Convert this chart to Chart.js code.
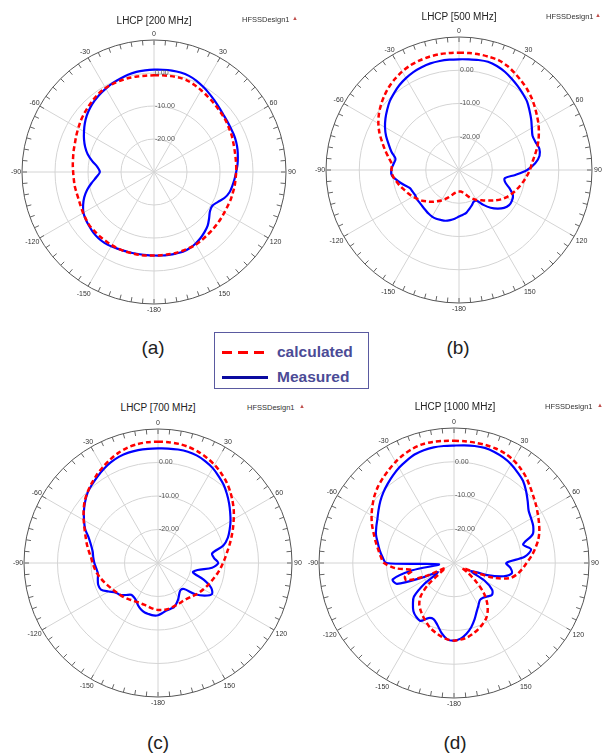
<!DOCTYPE html>
<html>
<head>
<meta charset="utf-8">
<script src="https://cdn.jsdelivr.net/npm/chart.js@4.4.1/dist/chart.umd.min.js"></script>
<style>
  body { margin: 0; background: #fff; font-family: "Liberation Sans", Arial, sans-serif; }
  #page { position: relative; width: 606px; height: 753px; overflow: hidden; background: #fff; }
  canvas { position: absolute; }
  .title { position: absolute; font-size: 10px; color: #222; transform: translate(-50%, -50%); white-space: nowrap; }
  .design { position: absolute; font-size: 7.5px; color: #333; transform: translateY(-50%); white-space: nowrap; }
  .tri { position: absolute; font-size: 6px; color: #c0504d; transform: translate(-50%, -50%); }
  .cap { position: absolute; font-size: 19px; color: #222; transform: translate(-50%, -50%); }
  #legend { position: absolute; left: 214px; top: 332px; width: 153px; height: 55px; border: 1px solid #5a5aa0; }
  #legend svg { position: absolute; left: 0; top: 0; }
  .lg { position: absolute; left: 62px; font-size: 15.5px; font-weight: bold; color: #4b4b96; transform: translateY(-50%); }
</style>
</head>
<body>
<div id="page">
  <canvas id="c200" width="300" height="300" style="left:4px;top:22px"></canvas>
  <canvas id="c500" width="300" height="300" style="left:309px;top:20px"></canvas>
  <canvas id="c700" width="300" height="300" style="left:8px;top:413px"></canvas>
  <canvas id="c1000" width="300" height="300" style="left:304px;top:413px"></canvas>

  <div class="title" style="left:154px;top:20px">LHCP [200 MHz]</div>
  <div class="design" style="left:242px;top:19px">HFSSDesign1</div>
  <div class="tri" style="left:295px;top:18px">&#9650;</div>
  <div class="title" style="left:459px;top:16px">LHCP [500 MHz]</div>
  <div class="design" style="left:546px;top:16px">HFSSDesign1</div>
  <div class="tri" style="left:598px;top:15px">&#9650;</div>
  <div class="title" style="left:158px;top:407px">LHCP [700 MHz]</div>
  <div class="design" style="left:247px;top:407px">HFSSDesign1</div>
  <div class="tri" style="left:302px;top:406px">&#9650;</div>
  <div class="title" style="left:455px;top:406px">LHCP [1000 MHz]</div>
  <div class="design" style="left:545px;top:406px">HFSSDesign1</div>
  <div class="tri" style="left:600px;top:405px">&#9650;</div>

  <div class="cap" style="left:153px;top:348px">(a)</div>
  <div class="cap" style="left:458px;top:348px">(b)</div>
  <div class="cap" style="left:158px;top:743px">(c)</div>
  <div class="cap" style="left:455px;top:743px">(d)</div>

  <div id="legend">
    <svg width="153" height="55">
      <line x1="7" y1="19.5" x2="53" y2="19.5" stroke="#ff0000" stroke-width="3" stroke-dasharray="10,6"/>
      <line x1="7" y1="44.5" x2="53" y2="44.5" stroke="#0a0aa0" stroke-width="3"/>
    </svg>
    <div class="lg" style="top:19px">calculated</div>
    <div class="lg" style="top:44px">Measured</div>
  </div>
</div>

<script>
// angles go clockwise from the top: 0..180 then -175..-5
const angles = [];
for (let a = 0; a <= 180; a += 5) angles.push(a);
for (let a = -175; a < 0; a += 5) angles.push(a);

const dbTicks = [0, -10, -20];

// gain in dB, one value per angle above
const calc200 = [
  -0.7, -0.6, -0.5, -0.4, -0.5, -0.9, -1.4, -1.9, -2.3, -2.7, -3.0, -3.3,
  -3.7, -4.0, -4.4, -4.7, -4.9, -5.0, -5.1, -5.2, -5.2, -5.3, -5.3, -5.4,
  -5.4, -5.3, -5.2, -5.1, -5.0, -4.8, -4.6, -4.6, -4.6, -4.6, -4.7, -4.7,
  -4.7, -4.6, -4.5, -4.5, -4.4, -4.4, -4.4, -4.5, -4.5, -4.6, -4.6, -4.9,
  -5.2, -5.5, -5.7, -5.7, -5.6, -5.6, -5.5, -5.3, -5.1, -4.8, -4.5, -4.0,
  -3.5, -2.9, -2.4, -1.9, -1.4, -0.9, -0.6, -0.5, -0.5, -0.5, -0.6, -0.7
];
const meas200 = [
  1.0, 1.1, 1.2, 1.2, 1.0, 0.5, -0.2, -0.9, -1.6, -2.2, -2.7, -3.0,
  -3.2, -3.3, -3.5, -3.8, -4.2, -4.6, -5.1, -5.5, -5.9, -6.3, -7.2, -8.6,
  -9.6, -9.3, -8.2, -7.0, -6.2, -5.5, -4.9, -4.5, -4.3, -4.4, -4.5, -4.6,
  -4.7, -4.7, -4.7, -4.6, -4.5, -4.3, -4.0, -3.8, -3.8, -4.0, -4.4, -4.8,
  -5.3, -6.3, -7.5, -9.0, -10.8, -12.5, -13.6, -12.8, -11.0, -9.2, -7.8, -6.6,
  -5.5, -4.4, -3.4, -2.6, -1.9, -1.3, -0.8, -0.3, 0.1, 0.5, 0.8, 0.9
];
const calc500 = [
  5.3, 5.3, 5.3, 5.2, 5.1, 4.5, 3.6, 2.7, 1.8, 0.8, -0.3, -1.4,
  -2.4, -3.5, -4.6, -5.8, -7.0, -8.0, -8.7, -9.5, -10.3, -11.1, -11.9, -12.7,
  -13.6, -14.6, -15.8, -17.0, -18.0, -18.9, -19.6, -20.5, -21.4, -22.4, -23.1, -23.5,
  -23.5, -23.4, -23.0, -22.3, -21.4, -20.4, -19.4, -18.5, -17.5, -16.6, -15.6, -14.8,
  -14.0, -13.2, -12.5, -11.6, -10.8, -10.0, -9.7, -9.7, -8.5, -7.0, -5.4, -3.6,
  -2.0, -0.6, 0.6, 1.7, 2.7, 3.5, 4.2, 4.7, 5.0, 5.2, 5.3, 5.3
];
const meas500 = [
  3.3, 3.4, 3.6, 3.7, 3.3, 2.6, 1.7, 0.8, -0.1, -1.0, -2.3, -3.5,
  -4.7, -5.6, -5.5, -5.0, -5.4, -7.0, -9.5, -13.0, -16.0, -15.6, -13.8, -12.1,
  -11.6, -11.6, -12.3, -13.6, -15.2, -17.2, -19.3, -19.5, -18.7, -17.9, -17.0, -16.5,
  -16.0, -15.3, -14.7, -14.2, -14.0, -13.8, -13.8, -14.0, -14.3, -14.5, -14.6, -14.6,
  -14.8, -14.6, -14.2, -12.8, -11.3, -9.8, -9.6, -10.2, -10.6, -9.0, -7.5, -5.8,
  -4.3, -3.0, -1.8, -0.6, 0.3, 1.2, 1.9, 2.5, 2.9, 3.2, 3.3, 3.3
];
const calc700 = [
  6.2, 6.2, 6.1, 5.8, 5.3, 4.6, 3.8, 2.8, 1.7, 0.4, -1.0, -2.4,
  -3.9, -5.3, -6.6, -7.8, -8.9, -9.8, -10.6, -11.3, -12.0, -12.7, -13.3, -13.8,
  -14.3, -14.8, -15.3, -15.8, -16.2, -16.4, -16.4, -16.3, -16.2, -16.0, -15.9, -15.9,
  -16.0, -16.2, -16.5, -16.8, -16.9, -16.9, -16.7, -16.4, -16.0, -15.6, -15.2, -14.8,
  -14.3, -13.7, -13.0, -12.3, -11.6, -11.0, -10.5, -9.9, -9.0, -8.0, -7.0, -5.8,
  -4.4, -2.9, -1.4, -0.2, 0.9, 2.0, 3.0, 4.0, 4.9, 5.6, 6.0, 6.2
];
const meas700 = [
  4.2, 4.3, 4.4, 4.4, 4.1, 3.5, 2.7, 1.6, 0.5, -0.9, -2.3, -3.7,
  -5.0, -6.4, -7.8, -9.8, -13.6, -13.2, -12.0, -13.8, -18.0, -19.2, -15.5, -12.5,
  -11.4, -13.0, -15.5, -19.0, -19.5, -18.9, -17.8, -16.8, -16.0, -15.8, -15.6, -15.0,
  -14.4, -14.3, -14.5, -14.7, -15.2, -16.0, -17.0, -17.5, -17.6, -16.5, -15.2, -14.6,
  -13.0, -11.2, -11.0, -11.4, -11.8, -11.5, -11.0, -10.6, -10.2, -9.3, -8.0, -6.0,
  -4.5, -3.0, -1.6, -0.3, 0.6, 1.5, 2.4, 3.2, 3.8, 4.1, 4.2, 4.2
];
const calc1000 = [
  6.2, 6.2, 6.2, 6.2, 6.1, 5.8, 5.2, 4.3, 3.2, 1.9, 0.7, -0.3,
  -1.3, -2.2, -3.1, -4.2, -5.6, -7.0, -8.5, -9.7, -11.0, -12.8, -17.0, -24.0,
  -27.0, -25.0, -21.5, -17.6, -14.8, -12.6, -11.0, -10.0, -9.1, -8.3, -7.6, -7.2,
  -7.0, -7.3, -7.9, -8.7, -9.5, -10.6, -11.7, -12.8, -14.0, -16.0, -20.0, -25.5,
  -27.0, -21.0, -15.0, -15.0, -17.5, -12.5, -9.3, -8.2, -7.2, -6.0, -4.7, -3.2,
  -1.8, -0.5, 0.8, 1.9, 2.8, 3.7, 4.6, 5.4, 6.0, 6.4, 6.4, 6.3
];
const meas1000 = [
  4.8, 5.0, 5.2, 5.3, 5.0, 4.5, 3.8, 2.8, 1.8, 0.2, -1.5, -3.0,
  -3.6, -4.1, -5.2, -8.8, -6.8, -9.0, -14.5, -13.2, -12.6, -14.8, -19.5, -24.5,
  -19.5, -16.2, -15.3, -16.0, -16.6, -16.6, -15.5, -14.1, -12.2, -10.3, -8.7, -7.5,
  -7.0, -7.3, -8.9, -11.0, -12.3, -12.0, -10.2, -10.5, -11.3, -12.8, -14.5, -19.5,
  -24.5, -20.0, -12.0, -11.2, -17.5, -25.5, -10.0, -8.7, -7.6, -6.6, -5.4, -4.6,
  -3.8, -2.7, -1.5, -0.4, 0.6, 1.6, 2.6, 3.4, 4.2, 4.6, 4.8, 4.8
];

// outer ring ticks, angle labels and dB labels, placed with the radial scale
const polarDecor = {
  id: 'polarDecor',
  beforeDatasetsDraw(chart) {
    const s = chart.scales.r;
    const ctx = chart.ctx;
    const R = s.drawingArea;
    ctx.save();
    ctx.strokeStyle = '#666';
    ctx.lineWidth = 1;
    angles.forEach((a, i) => {
      const p1 = s.getPointPosition(i, R);
      const p2 = s.getPointPosition(i, R - 5);
      ctx.beginPath();
      ctx.moveTo(p1.x, p1.y);
      ctx.lineTo(p2.x, p2.y);
      ctx.stroke();
    });
    ctx.fillStyle = '#333';
    ctx.font = '7px "Liberation Sans", Arial, sans-serif';
    ctx.textAlign = 'center';
    ctx.textBaseline = 'middle';
    angles.forEach((a, i) => {
      if (a % 30 !== 0) return;
      const lower = Math.abs(a) > 100 && Math.abs(a) < 170;
      const p = s.getPointPosition(i, R + (lower ? 8.5 : 6));
      ctx.fillText(a === 180 ? '-180' : String(a), p.x, p.y);
    });
    ctx.restore();
  },
  afterDatasetsDraw(chart) {
    const s = chart.scales.r;
    const ctx = chart.ctx;
    ctx.save();
    ctx.fillStyle = '#555';
    ctx.font = '7px "Liberation Sans", Arial, sans-serif';
    ctx.textAlign = 'left';
    ctx.textBaseline = 'middle';
    dbTicks.forEach(v => {
      const y = s.yCenter - s.getDistanceFromCenterForValue(v);
      ctx.fillText(v.toFixed(2), s.xCenter + 1, y);
    });
    ctx.restore();
  }
};

function makeChart(id, calc, meas, pad) {
  return new Chart(document.getElementById(id), {
    type: 'radar',
    data: {
      labels: angles,
      datasets: [
        { label: 'calculated', data: calc, borderColor: '#ff0000', borderWidth: 2.5,
          borderDash: [5, 3], pointRadius: 0, fill: false, tension: 0.3 },
        { label: 'Measured', data: meas, borderColor: '#0000ff', borderWidth: 2.2,
          pointRadius: 0, fill: false, tension: 0.3 }
      ]
    },
    options: {
      responsive: false,
      animation: false,
      layout: { padding: pad },
      plugins: { legend: { display: false }, tooltip: { enabled: false } },
      scales: {
        r: {
          min: -30,
          max: 10,
          startAngle: 0,
          ticks: { display: false, stepSize: 10 },
          pointLabels: { display: false },
          grid: {
            circular: true,
            color: c => c.tick.value === 10 ? '#555' : (c.tick.value === -30 ? 'rgba(0,0,0,0)' : '#d4d4d4'),
            lineWidth: 1
          },
          angleLines: {
            color: c => c.index % 6 === 0 ? '#d4d4d4' : 'rgba(0,0,0,0)',
            lineWidth: c => c.index % 6 === 0 ? 1 : 0
          }
        }
      }
    },
    plugins: [polarDecor]
  });
}

makeChart('c200', calc200, meas200, 18);
makeChart('c500', calc500, meas500, 17);
makeChart('c700', calc700, meas700, 16);
makeChart('c1000', calc1000, meas1000, 15);
</script>
</body>
</html>
